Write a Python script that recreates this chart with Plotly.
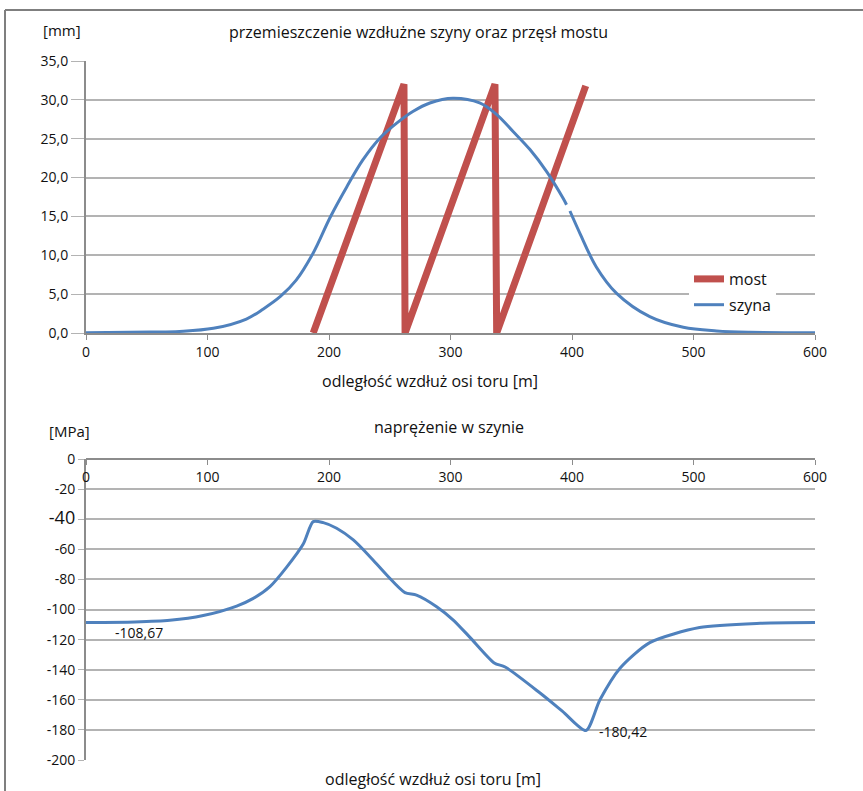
import plotly.graph_objects as go

W, H = 863, 791

# --- data: top chart (displacement, mm) ---
most_x = [187, 261.7, 262.6, 336.6, 338.0, 411.3]
most_y = [0.0, 32.0, 0.0, 32.0, 0.0, 31.8]

szyna_x = [0, 53, 77, 104.8, 132, 146, 160, 173, 187, 201, 214.6, 228, 242, 255.7, 269, 283,
           302, 324, 338, 351.7, 365.4, 379, 392.8, 395.5, None, 398.3, 406.6, 420, 436.7,
           464, 491.6, 519, 546.5, 600]
szyna_y = [0.03, 0.12, 0.2, 0.6, 1.8, 3.1, 4.7, 6.8, 10.3, 14.9, 18.8, 22.3, 25.1, 27.0, 28.5, 29.6,
           30.2, 29.6, 28.1, 25.9, 23.6, 20.8, 17.3, 16.5, None, 15.7, 12.8, 8.5, 5.1,
           2.1, 0.73, 0.26, 0.09, 0.03]

# --- data: bottom chart (stress, MPa) ---
nap_x = [0, 40, 69, 96.5, 124, 137.7, 151.4, 165, 178.8, 187, 195.3, 206.3, 220, 233.7,
         247.5, 262.5, 272, 288.6, 302.3, 316, 336, 345, 373.7, 392, 411.5, 423, 439.5, 464,
         505, 555, 600]
nap_y = [-108.67, -108.3, -107.2, -104.0, -97.7, -92.6, -84.8, -72.0, -56.5, -41.6, -42.3,
         -46, -53.8, -64.9, -77.1, -88.8, -90.4, -98.1, -107, -118.5, -135.5, -138.2, -155.5,
         -167.5, -180.42, -160, -139, -122, -112, -109.2, -108.7]

x_ticks = [0, 100, 200, 300, 400, 500, 600]
top_y_ticks = [0, 5, 10, 15, 20, 25, 30, 35]
bot_y_ticks = [0, -20, -40, -60, -80, -100, -120, -140, -160, -180, -200]
bot_y_text = ["0", "-20", "<span style='font-size:18px'>-40</span>", "-60", "-80", "-100",
              "-120", "-140", "-160", "-180", "-200"]

RED = "#c0504d"
BLUE = "#4f81bd"
GRID = "#b3b3b3"
AXIS = "#8c8c8c"
FONT = "Open Sans"

def px(x):
    return x / W

def py(y):
    return 1 - y / H

fig = go.Figure()
fig.add_trace(go.Scatter(x=most_x, y=most_y, mode="lines", name="most",
                         line=dict(color=RED, width=7), xaxis="x", yaxis="y",
                         legendgroup="a"))
fig.add_trace(go.Scatter(x=szyna_x, y=szyna_y, mode="lines", name="szyna",
                         line=dict(color=BLUE, width=3, shape="spline", smoothing=1.0),
                         connectgaps=False, xaxis="x", yaxis="y", legendgroup="b"))
fig.add_trace(go.Scatter(x=nap_x, y=nap_y, mode="lines", name="naprężenie",
                         line=dict(color=BLUE, width=3, shape="spline", smoothing=0.7),
                         xaxis="x2", yaxis="y2", showlegend=False))

x0, x1 = px(86), px(815)

fig.update_layout(
    width=W, height=H,
    margin=dict(l=0, r=0, t=0, b=0, autoexpand=False),
    paper_bgcolor="white", plot_bgcolor="white",
    separators=", ",
    font=dict(family=FONT, size=14, color="#111"),
    showlegend=True,
    legend=dict(x=px(689), y=py(262), xanchor="left", yanchor="top",
                bgcolor="white", traceorder="grouped", tracegroupgap=2,
                font=dict(size=16), itemwidth=30),
    xaxis=dict(domain=[x0, x1], anchor="y", range=[0, 600], tickvals=x_ticks,
               automargin=False,
               showgrid=False, zeroline=False, showline=True, linecolor=AXIS, linewidth=2,
               ticks="outside", ticklen=5, tickcolor=AXIS, tickfont=dict(size=14)),
    yaxis=dict(domain=[py(333), py(61)], anchor="x", range=[0, 35], tickvals=top_y_ticks,
               automargin=False,
               tickformat=".1f", showgrid=True, gridcolor=GRID, gridwidth=1.5, zeroline=False,
               showline=True, linecolor=AXIS, linewidth=2, ticks="outside", ticklen=13,
               tickcolor=GRID, tickfont=dict(size=14)),
    xaxis2=dict(domain=[x0, x1], anchor="free", position=py(459), side="bottom",
                automargin=False,
                range=[0, 600], tickvals=x_ticks, showgrid=False, zeroline=False,
                showline=True, linecolor=AXIS, linewidth=2, ticks="outside", ticklen=5,
                tickcolor=AXIS, tickfont=dict(size=14)),
    yaxis2=dict(domain=[py(760), py(459)], anchor="x2", range=[-200, 0],
                automargin=False,
                tickvals=bot_y_ticks, ticktext=bot_y_text, showgrid=True, gridcolor=GRID,
                gridwidth=1.5, zeroline=False, showline=True, linecolor=AXIS, linewidth=2,
                ticks="outside", ticklen=6, tickcolor=GRID, tickfont=dict(size=14)),
)

def ann(text, x, y, size=14, xanchor="center"):
    fig.add_annotation(text=text, x=px(x), y=py(y), xref="paper", yref="paper",
                       showarrow=False, xanchor=xanchor, yanchor="middle",
                       font=dict(size=size, family=FONT, color="#111"))

ann("przemieszczenie wzdłużne szyny oraz przęsł mostu", 418, 32, 16)
ann("[mm]", 62, 30, 15)
ann("odległość wzdłuż osi toru [m]", 430, 381, 16)
ann("naprężenie w szynie", 449, 427, 16)
ann("[MPa]", 69, 431, 15)
ann("odległość wzdłuż osi toru [m]", 433, 779, 16)
ann("-108,67", 113, 632, 14, "left")
ann("-180,42", 597, 731, 14, "left")

# outer frame (left and top edges)
fig.add_shape(type="line", xref="paper", yref="paper", x0=px(5), x1=px(5), y0=0, y1=py(10),
              line=dict(color="#7f7f7f", width=2))
fig.add_shape(type="line", xref="paper", yref="paper", x0=px(5), x1=1, y0=py(10), y1=py(10),
              line=dict(color="#7f7f7f", width=2))

fig.write_html("out.html", post_script="document.body.style.margin='0px';",
               config={"displayModeBar": False})
